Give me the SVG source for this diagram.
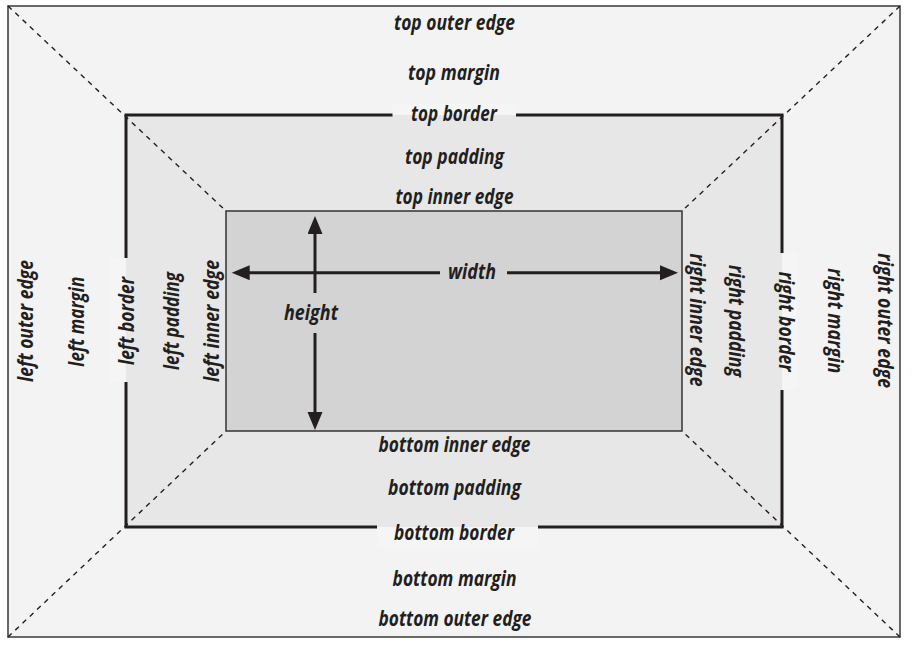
<svg xmlns="http://www.w3.org/2000/svg" width="912" height="647" viewBox="0 0 912 647">
<style>
.lbl{font-family:"Open Sans","Liberation Sans",sans-serif;font-weight:700;font-style:italic;font-size:21.5px;fill:#231f20;text-anchor:middle}
.dash{stroke:#231f20;stroke-width:1.4;stroke-dasharray:5 5;fill:none}
.arr{stroke:#231f20;stroke-width:3;fill:none}
.gap{fill:#f5f5f5}
</style>
<defs>
<marker id="ah" markerUnits="userSpaceOnUse" markerWidth="20" markerHeight="16" refX="1" refY="7.5" orient="auto">
<path d="M0,0 L18,7.5 L0,15 Z" fill="#231f20"/>
</marker>
</defs>
<rect width="912" height="647" fill="#ffffff"/>
<g id="margin">
<rect x="8" y="6" width="892" height="631" fill="#f3f3f3" stroke="#444" stroke-width="1.6"/>
</g>
<g id="padding">
<rect x="126" y="115" width="656" height="412" fill="#e7e7e7"/>
</g>
<g id="border">
<rect class="gap" x="392.5" y="104" width="123.5" height="11"/>
<rect class="gap" x="377" y="527" width="161" height="21"/>
<rect class="gap" x="110" y="258" width="16" height="124"/>
<rect class="gap" x="782" y="253" width="15" height="137"/>
<path d="M392.5,115 H126 V258 M126,382 V527 H377 M538,527 H782 V390 M782,253 V115 H516" fill="none" stroke="#231f20" stroke-width="3"/>
</g>
<g id="connectors">
<line class="dash" x1="8" y1="6" x2="226" y2="211"/>
<line class="dash" x1="900" y1="6" x2="682" y2="211"/>
<line class="dash" x1="8" y1="637" x2="226" y2="431"/>
<line class="dash" x1="900" y1="637" x2="682" y2="431"/>
</g>
<g id="content">
<rect x="226" y="211" width="456" height="220" fill="#d3d3d3" stroke="#333" stroke-width="1.5"/>
</g>
<g id="arrows">
<line class="arr" x1="315" y1="293" x2="315" y2="233" marker-end="url(#ah)"/>
<line class="arr" x1="315" y1="333" x2="315" y2="413" marker-end="url(#ah)"/>
<line class="arr" x1="440" y1="272.7" x2="248.7" y2="272.7" marker-end="url(#ah)"/>
<line class="arr" x1="507" y1="272.7" x2="661" y2="272.7" marker-end="url(#ah)"/>
</g>
<g id="labels-top">
<text class="lbl" x="454.5" y="29.5" textLength="121" lengthAdjust="spacingAndGlyphs">top outer edge</text>
<text class="lbl" x="454" y="79.5" textLength="92" lengthAdjust="spacingAndGlyphs">top margin</text>
<text class="lbl" x="454" y="121" textLength="86" lengthAdjust="spacingAndGlyphs">top border</text>
<text class="lbl" x="454.5" y="164" textLength="99" lengthAdjust="spacingAndGlyphs">top padding</text>
<text class="lbl" x="454.5" y="203.5" textLength="118" lengthAdjust="spacingAndGlyphs">top inner edge</text>
</g>
<g id="labels-content">
<text class="lbl" x="472" y="278.5" textLength="48" lengthAdjust="spacingAndGlyphs">width</text>
<text class="lbl" x="311" y="320" textLength="54" lengthAdjust="spacingAndGlyphs">height</text>
</g>
<g id="labels-bottom">
<text class="lbl" x="454.5" y="451.5" textLength="152" lengthAdjust="spacingAndGlyphs">bottom inner edge</text>
<text class="lbl" x="454.5" y="495" textLength="133" lengthAdjust="spacingAndGlyphs">bottom padding</text>
<text class="lbl" x="454" y="540" textLength="120" lengthAdjust="spacingAndGlyphs">bottom border</text>
<text class="lbl" x="454.5" y="585.5" textLength="124" lengthAdjust="spacingAndGlyphs">bottom margin</text>
<text class="lbl" x="455" y="625.5" textLength="153" lengthAdjust="spacingAndGlyphs">bottom outer edge</text>
</g>
<g id="labels-left">
<text class="lbl" transform="translate(33,321) rotate(-90)" textLength="122" lengthAdjust="spacingAndGlyphs">left outer edge</text>
<text class="lbl" transform="translate(83.5,321.7) rotate(-90)" textLength="90" lengthAdjust="spacingAndGlyphs">left margin</text>
<text class="lbl" transform="translate(134,321) rotate(-90)" textLength="88" lengthAdjust="spacingAndGlyphs">left border</text>
<text class="lbl" transform="translate(179,321) rotate(-90)" textLength="98" lengthAdjust="spacingAndGlyphs">left padding</text>
<text class="lbl" transform="translate(218.5,321) rotate(-90)" textLength="122" lengthAdjust="spacingAndGlyphs">left inner edge</text>
</g>
<g id="labels-right">
<text class="lbl" transform="translate(690,320) rotate(90)" textLength="133" lengthAdjust="spacingAndGlyphs">right inner edge</text>
<text class="lbl" transform="translate(729,321) rotate(90)" textLength="112" lengthAdjust="spacingAndGlyphs">right padding</text>
<text class="lbl" transform="translate(779,321.7) rotate(90)" textLength="100" lengthAdjust="spacingAndGlyphs">right border</text>
<text class="lbl" transform="translate(827.5,320.7) rotate(90)" textLength="105" lengthAdjust="spacingAndGlyphs">right margin</text>
<text class="lbl" transform="translate(877.5,320.7) rotate(90)" textLength="135" lengthAdjust="spacingAndGlyphs">right outer edge</text>
</g>
</svg>
